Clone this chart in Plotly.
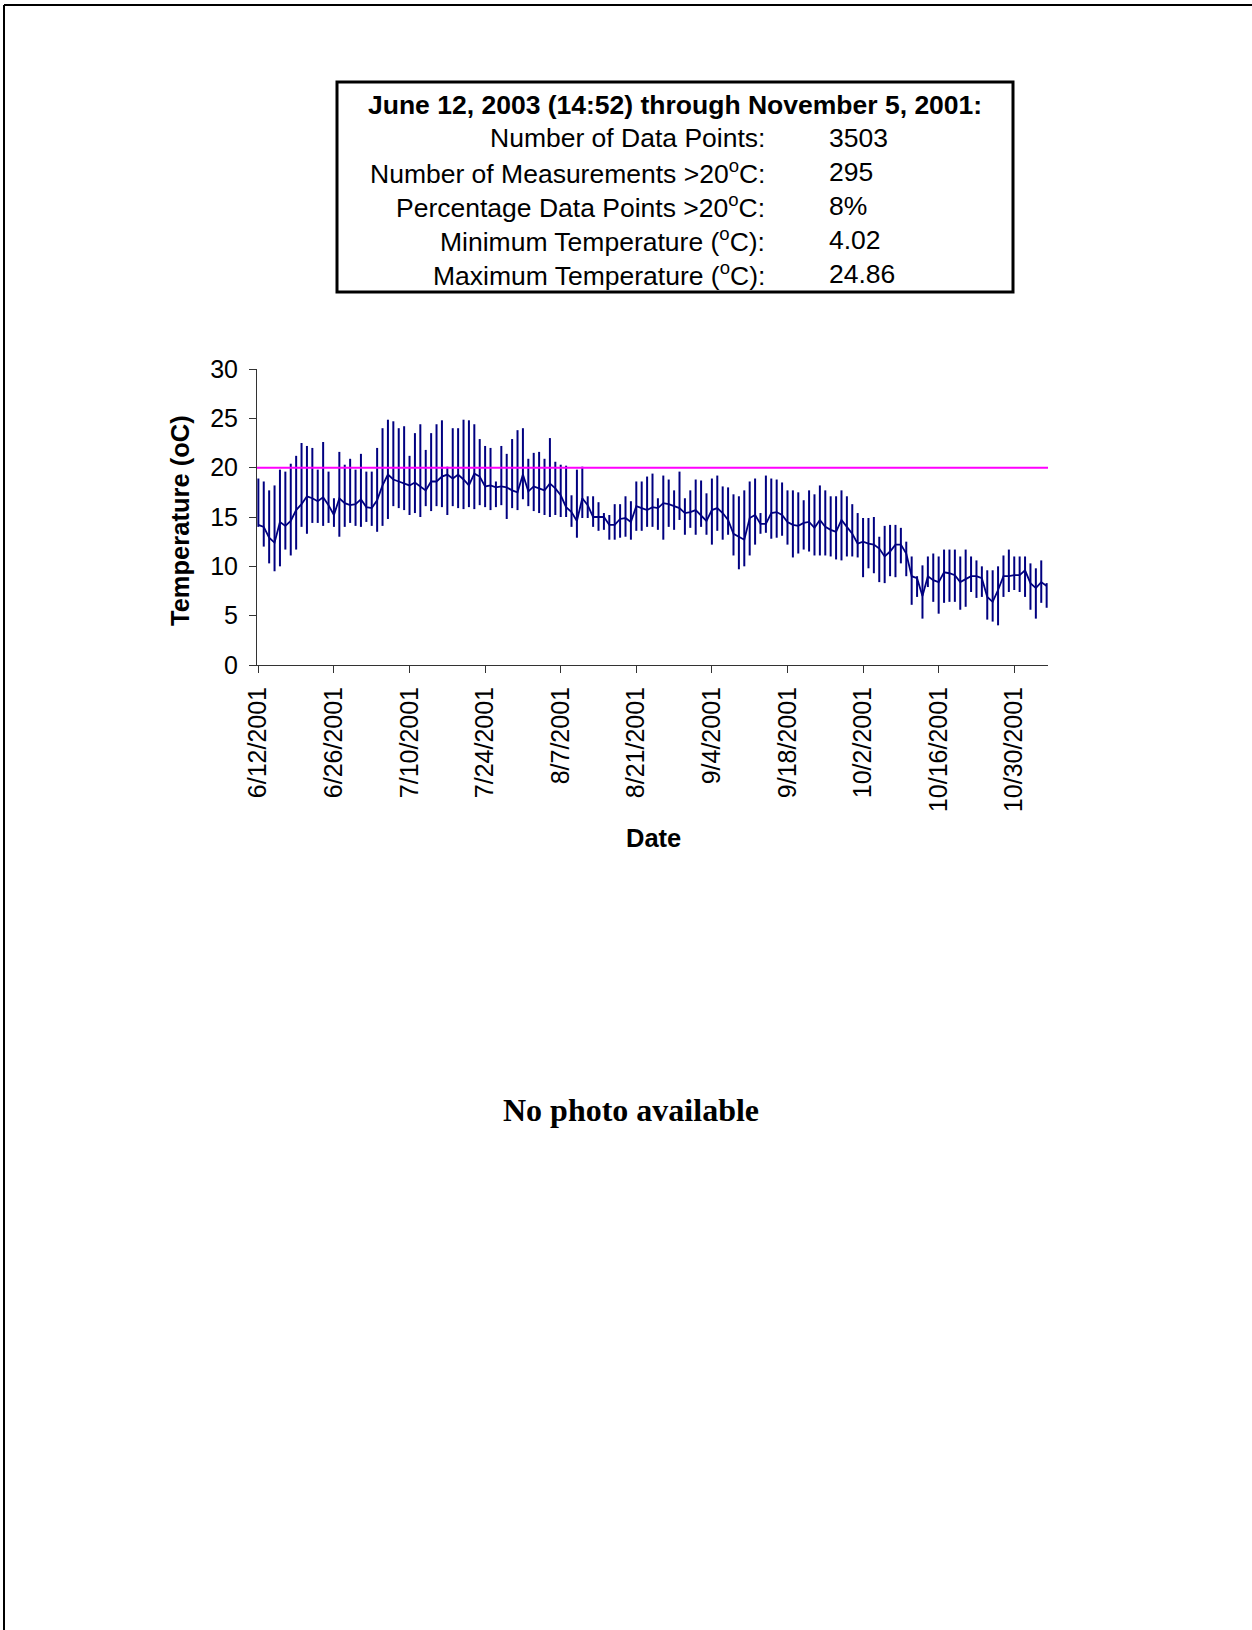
import plotly.graph_objects as go
import pandas as pd

# ---------------- data ----------------
start_date = "2001-06-12"
daily_max = [18.9, 18.6, 17.7, 18.2, 19.8, 19.6, 20.4, 21.2, 22.5, 22.2,
             22.0, 19.8, 22.6, 19.6, 16.9, 21.6, 20.3, 20.9, 19.8, 21.4,
             19.6, 19.6, 22.0, 24.0, 24.86, 24.7, 24.0, 24.2, 21.2, 23.5,
             24.4, 21.8, 23.5, 24.4, 24.8, 20.1, 24.0, 24.0, 24.86, 24.8,
             24.4, 22.9, 22.2, 22.0, 18.6, 22.2, 21.4, 22.9, 23.8, 24.0,
             20.9, 21.5, 21.6, 20.9, 23.0, 20.6, 20.3, 20.2, 17.2, 19.8,
             20.1, 17.1, 17.1, 16.5, 15.4, 15.2, 16.3, 16.3, 17.1, 16.6,
             18.6, 18.6, 19.1, 19.4, 16.9, 19.2, 18.8, 17.7, 19.6, 16.9,
             17.7, 18.8, 18.7, 17.4, 18.9, 19.2, 18.1, 18.0, 17.3, 17.1,
             17.7, 18.6, 18.9, 15.4, 19.2, 18.9, 18.8, 18.5, 17.7, 17.7,
             17.5, 16.7, 17.7, 17.3, 18.2, 17.7, 17.1, 17.1, 17.7, 17.1,
             16.3, 15.4, 14.9, 14.9, 15.0, 13.0, 14.1, 14.2, 14.2, 13.9,
             12.5, 11.0, 9.0, 10.1, 11.0, 11.3, 11.0, 11.7, 11.7, 11.7,
             11.0, 11.7, 11.0, 10.6, 10.0, 9.6, 9.6, 10.0, 11.1, 11.7,
             11.0, 11.0, 11.0, 10.3, 9.8, 10.6, 8.3]
daily_min = [14.0, 12.0, 10.3, 9.5, 10.0, 11.7, 11.1, 11.7, 14.0, 13.3,
             14.4, 14.4, 14.1, 14.4, 14.0, 13.0, 14.0, 14.4, 14.1, 14.0,
             14.5, 14.1, 13.5, 14.1, 14.8, 16.1, 15.9, 15.7, 15.2, 15.4,
             15.0, 16.1, 15.6, 16.1, 16.0, 15.2, 16.1, 15.9, 15.8, 16.0,
             15.8, 16.2, 16.0, 15.7, 16.0, 16.2, 14.8, 15.9, 15.7, 16.8,
             16.1, 15.6, 15.4, 15.2, 15.0, 15.2, 15.0, 15.0, 14.0, 12.9,
             14.9, 14.9, 14.0, 13.6, 13.7, 12.7, 12.7, 12.9, 13.0, 12.7,
             13.6, 13.6, 14.0, 14.0, 13.7, 12.7, 14.0, 13.7, 14.7, 13.2,
             13.9, 13.2, 14.0, 13.2, 12.2, 13.6, 12.7, 13.2, 11.1, 9.7,
             10.0, 11.1, 12.2, 13.3, 13.4, 12.8, 12.9, 13.1, 12.2, 10.9,
             11.3, 11.7, 11.5, 11.1, 11.1, 11.1, 11.0, 10.7, 10.6, 11.0,
             11.0, 10.9, 8.9, 9.8, 9.3, 8.4, 8.3, 9.0, 8.9, 10.3,
             9.0, 6.1, 6.9, 4.7, 7.9, 6.4, 5.2, 6.3, 6.4, 6.4,
             5.6, 5.9, 7.4, 6.8, 6.9, 4.6, 4.4, 4.02, 6.9, 7.4,
             7.6, 7.4, 6.9, 5.6, 4.7, 6.3, 5.8]
daily_mean = [14.2, 14.0, 12.9, 12.4, 14.5, 14.1, 14.6, 15.7, 16.3, 17.1,
              16.9, 16.6, 17.0, 16.2, 15.2, 16.9, 16.4, 16.2, 16.3, 16.8,
              16.0, 15.9, 16.7, 18.2, 19.3, 18.8, 18.6, 18.4, 18.2, 18.5,
              18.1, 17.7, 18.6, 18.6, 19.1, 19.3, 18.9, 19.3, 18.8, 18.2,
              19.4, 19.1, 18.1, 18.2, 18.0, 18.1, 18.0, 17.7, 17.5, 19.3,
              17.6, 18.1, 17.9, 17.7, 18.4, 17.9, 17.2, 16.0, 15.5, 14.6,
              16.9, 16.2, 15.0, 15.0, 15.0, 14.2, 14.2, 14.8, 14.9, 14.5,
              16.1, 15.9, 15.7, 16.0, 15.9, 16.4, 16.3, 16.1, 15.9, 15.4,
              15.5, 15.7, 15.2, 14.6, 15.7, 15.9, 15.4, 14.7, 13.3, 13.0,
              12.7, 14.9, 15.2, 14.3, 14.3, 15.4, 15.5, 15.2, 14.5, 14.2,
              14.1, 14.4, 14.5, 13.9, 14.7, 14.0, 13.7, 13.5, 14.7, 14.0,
              13.3, 12.3, 12.5, 12.3, 12.2, 11.8, 11.0, 11.5, 12.2, 12.2,
              11.3, 9.0, 8.8, 7.0, 9.0, 8.6, 8.4, 9.4, 9.3, 9.1,
              8.4, 8.7, 9.0, 9.0, 8.8, 6.9, 6.4, 7.6, 9.0, 9.0,
              9.1, 9.1, 9.6, 8.3, 7.8, 8.4, 8.0]
threshold = 20
tick_dates = ["2001-06-12", "2001-06-26", "2001-07-10", "2001-07-24", "2001-08-07",
              "2001-08-21", "2001-09-04", "2001-09-18", "2001-10-02", "2001-10-16",
              "2001-10-30"]
tick_labels = ["6/12/2001", "6/26/2001", "7/10/2001", "7/24/2001", "8/7/2001",
               "8/21/2001", "9/4/2001", "9/18/2001", "10/2/2001", "10/16/2001",
               "10/30/2001"]
y_ticks = [0, 5, 10, 15, 20, 25, 30]
box_title = "June 12, 2003 (14:52) through November 5, 2001:"
box_labels = ["Number of Data Points:", "Number of Measurements >20<sup>o</sup>C:",
              "Percentage Data Points >20<sup>o</sup>C:", "Minimum Temperature (<sup>o</sup>C):",
              "Maximum Temperature (<sup>o</sup>C):"]
box_values = ["3503", "295", "8%", "4.02", "24.86"]

dates = pd.date_range(start_date, periods=len(daily_max), freq="D")

# ---------------- layout geometry (pixels) ----------------
W, H = 1252, 1630
PL, PR, PT, PB = 257, 1048, 369, 665


def px(x):
    return (x - PL) / (PR - PL)


def py(y):
    return (PB - y) / (PB - PT)


SANS = "Liberation Sans, Arial, sans-serif"
NAVY = "#000080"

# hi-lo segments
hx, hy = [], []
for d, lo, hi in zip(dates, daily_min, daily_max):
    hx += [d, d, None]
    hy += [lo, hi, None]

fig = go.Figure()
fig.add_trace(go.Scatter(x=hx, y=hy, mode="lines", line=dict(color=NAVY, width=2),
                         hoverinfo="skip", showlegend=False))
fig.add_trace(go.Scatter(x=dates, y=daily_mean, mode="lines",
                         line=dict(color=NAVY, width=1.8), showlegend=False))

shapes = [
    dict(type="line", xref="paper", yref="y", x0=0, x1=1, y0=threshold, y1=threshold,
         line=dict(color="#FF00FF", width=2), layer="above"),
    # stats box
    dict(type="rect", xref="paper", yref="paper", x0=px(337), x1=px(1013),
         y0=py(82), y1=py(292), line=dict(color="black", width=3)),
    # page border (top and left)
    dict(type="line", xref="paper", yref="paper", x0=px(4), x1=px(W + 5),
         y0=py(5), y1=py(5), line=dict(color="black", width=2)),
    dict(type="line", xref="paper", yref="paper", x0=px(4), x1=px(4),
         y0=py(5), y1=py(H + 5), line=dict(color="black", width=2)),
]

annotations = [
    dict(text="<b>" + box_title + "</b>", x=px(674.5), y=py(105), xref="paper", yref="paper",
         xanchor="center", yanchor="middle", showarrow=False,
         font=dict(family=SANS, size=26.5, color="black")),
]
row_y = [138, 172, 205.5, 239.5, 274]
for lab, val, ry in zip(box_labels, box_values, row_y):
    annotations.append(dict(text=lab, x=px(767), y=py(ry), xref="paper", yref="paper",
                            xanchor="right", yanchor="middle", showarrow=False,
                            font=dict(family=SANS, size=26.5, color="black")))
    annotations.append(dict(text=val, x=px(827), y=py(ry), xref="paper", yref="paper",
                            xanchor="left", yanchor="middle", showarrow=False,
                            font=dict(family=SANS, size=26.5, color="black")))

annotations += [
    dict(text="<b>Temperature (oC)</b>", x=px(180), y=py(521), xref="paper", yref="paper",
         xanchor="center", yanchor="middle", textangle=-90, showarrow=False,
         font=dict(family=SANS, size=25.5, color="black")),
    dict(text="<b>Date</b>", x=px(653), y=py(838), xref="paper", yref="paper",
         xanchor="center", yanchor="middle", showarrow=False,
         font=dict(family=SANS, size=25.5, color="black")),
    dict(text="<b>No photo available</b>", x=px(631), y=py(1110), xref="paper", yref="paper",
         xanchor="center", yanchor="middle", showarrow=False,
         font=dict(family="Liberation Serif, Times New Roman, serif", size=32, color="black")),
]

fig.update_layout(
    template="none",
    width=W, height=H,
    margin=dict(l=PL, r=W - PR, t=PT, b=H - PB, pad=0, autoexpand=False),
    paper_bgcolor="white", plot_bgcolor="white",
    showlegend=False,
    shapes=shapes,
    annotations=annotations,
    xaxis=dict(
        type="date",
        range=["2001-06-11 18:00", "2001-11-05 06:00"],
        tickmode="array", tickvals=tick_dates, ticktext=tick_labels,
        tickangle=-90, ticks="outside", ticklen=7, tickwidth=1, tickcolor="#333",
        showline=True, linecolor="#333", linewidth=1,
        showgrid=False, zeroline=False, automargin=False,
        tickfont=dict(family=SANS, size=25, color="black"),
        ticklabelstandoff=4,
    ),
    yaxis=dict(
        range=[0, 30], tickmode="array", tickvals=y_ticks,
        ticks="outside", ticklen=7, tickwidth=1, tickcolor="#333",
        showline=True, linecolor="#333", linewidth=1,
        showgrid=False, zeroline=False, automargin=False,
        tickfont=dict(family=SANS, size=25, color="black"),
        ticklabelstandoff=6,
    ),
)

fig.write_html("out.html", config={"displayModeBar": False},
               post_script="document.body.style.margin='0';document.body.style.padding='0';")
